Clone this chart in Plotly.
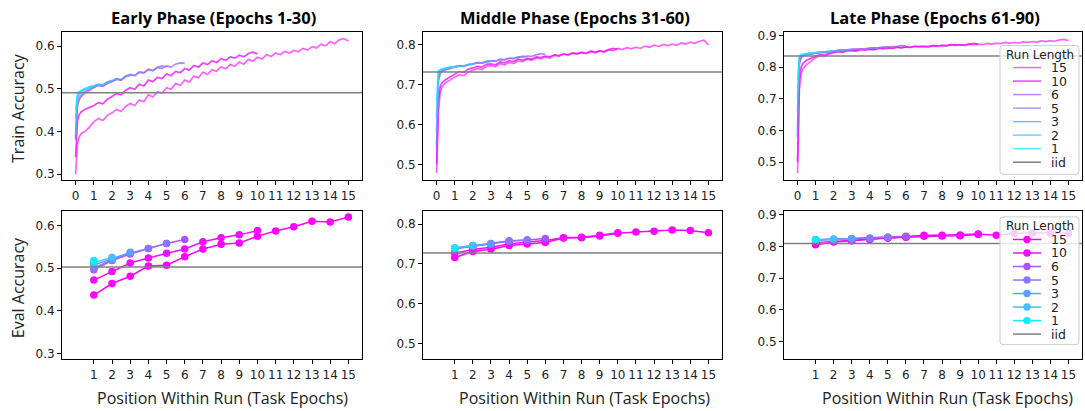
import plotly.graph_objects as go

W, H = 1085, 411

RUN_LENGTHS = [15, 10, 6, 5, 3, 2, 1]
PHASE_TITLES = ["Early Phase (Epochs 1-30)", "Middle Phase (Epochs 31-60)", "Late Phase (Epochs 61-90)"]
TOP_XTICKS = list(range(0, 16))
BOT_XTICKS = list(range(1, 16))
YTICKS = [[0.3, 0.4, 0.5, 0.6], [0.5, 0.6, 0.7, 0.8], [0.5, 0.6, 0.7, 0.8, 0.9]]
Y_RANGES = [[0.286, 0.634], [0.46, 0.833], [0.443, 0.912]]
EARLY_X = [0, 0.05, 0.1, 0.2, 0.3, 0.5, 0.75]   # sample positions before epoch 1

IID_TRAIN = [0.491, 0.732, 0.835]
IID_EVAL = [0.503, 0.7275, 0.8095]

# ---------------- Train accuracy (top row) ----------------
# Early phase
TR_EARLY_15 = [.300, .345, .372, .388, .395, .400, .410,
               .423, .431, .426, .438, .444, .452, .447, .459, .466, .461, .474, .470,
               .486, .481, .494, .490, .503, .499, .513, .508, .521, .516, .530, .526,
               .539, .534, .545, .541, .552, .547, .557, .553, .563, .558, .569, .565,
               .574, .570, .580, .576, .584, .580, .588, .584, .590, .587, .595, .591,
               .599, .596, .605, .601, .611, .606, .615, .618, .612]
TR_EARLY_10 = [.340, .400, .425, .440, .446, .452, .457,
               .461, .468, .465, .476, .482, .489, .486, .497, .503, .499, .511, .507,
               .521, .517, .527, .524, .535, .531, .541, .538, .548, .544, .555, .551,
               .561, .557, .566, .562, .571, .567, .575, .572, .579, .575, .583, .586, .582]
TR_EARLY_6 = [.380, .430, .460, .475, .482, .490, .497,
              .503, .509, .506, .513, .517, .522, .520, .529, .534, .531, .539, .537,
              .546, .543, .550, .548, .554, .551, .558, .561, .560]
TR_EARLY_5 = [.385, .440, .465, .478, .485, .493, .499,
              .504, .508, .507, .514, .518, .524, .521, .530, .533, .531, .540, .538,
              .545, .543, .551, .554, .552]
TR_EARLY_3 = [.390, .450, .475, .487, .492, .498, .502,
              .506, .510, .509, .516, .519, .524, .522, .529, .531]
TR_EARLY_2 = [.430, .470, .485, .492, .496, .500, .504,
              .508, .511, .510, .517, .520]
TR_EARLY_1 = [.450, .480, .490, .494, .497, .501, .505, .508]

# Middle phase
TR_MID_15 = [.478, .560, .630, .680, .695, .705, .713,
             .719, .725, .722, .732, .736, .741, .738, .746, .748, .745, .753, .750,
             .756, .753, .760, .758, .764, .761, .767, .765, .770, .767, .774, .771,
             .777, .774, .779, .777, .781, .778, .783, .780, .785, .782, .788, .785,
             .791, .788, .793, .790, .794, .791, .797, .794, .799, .796, .801, .798,
             .802, .799, .805, .802, .807, .804, .809, .812, .800]
TR_MID_10 = [.500, .600, .660, .695, .705, .713, .720,
             .728, .733, .731, .739, .742, .746, .744, .751, .752, .750, .757, .755,
             .760, .758, .764, .762, .766, .764, .770, .768, .772, .770, .775, .773,
             .777, .775, .780, .778, .781, .779, .784, .782, .785, .783, .788, .791, .789]
TR_MID_6 = [.540, .650, .710, .728, .733, .737, .741,
            .745, .748, .747, .751, .752, .756, .755, .759, .760, .759, .764, .763,
            .767, .766, .770, .769, .772, .771, .775, .778, .776]
TR_MID_5 = [.550, .660, .715, .730, .735, .739, .742,
            .744, .747, .746, .750, .752, .755, .754, .758, .760, .759, .763, .762,
            .766, .765, .769, .772, .770]
TR_MID_3 = [.580, .680, .725, .735, .738, .741, .743,
            .745, .747, .747, .750, .752, .754, .754, .757, .758]
TR_MID_2 = [.620, .700, .730, .737, .739, .742, .744,
            .745, .747, .747, .750, .752]
TR_MID_1 = [.660, .720, .735, .738, .740, .742, .744, .744]

# Late phase
TR_LATE_15 = [.465, .620, .730, .780, .795, .808, .818,
              .830, .836, .834, .842, .846, .849, .847, .852, .853, .851, .856, .854,
              .857, .855, .860, .858, .861, .859, .863, .861, .864, .862, .866, .864,
              .866, .864, .868, .866, .869, .867, .871, .869, .871, .869, .873, .871,
              .873, .871, .875, .873, .876, .874, .878, .876, .878, .876, .880, .878,
              .881, .879, .883, .881, .884, .882, .886, .888, .884]
TR_LATE_10 = [.500, .660, .760, .800, .812, .822, .829,
              .835, .840, .838, .844, .847, .850, .848, .852, .853, .852, .856, .855,
              .857, .856, .860, .859, .861, .860, .863, .862, .864, .863, .866, .865,
              .866, .865, .868, .867, .869, .868, .871, .870, .871, .870, .873, .875, .872]
TR_LATE_6 = [.580, .740, .810, .830, .835, .839, .842,
             .845, .847, .847, .850, .851, .853, .853, .855, .856, .856, .858, .858,
             .860, .860, .862, .862, .864, .864, .866, .868, .867]
TR_LATE_5 = [.600, .750, .815, .832, .836, .840, .843,
             .845, .847, .847, .850, .851, .853, .853, .855, .856, .856, .858, .858,
             .860, .860, .862, .864, .863]
TR_LATE_3 = [.660, .780, .825, .836, .839, .842, .844,
             .846, .848, .848, .850, .851, .853, .853, .855, .855]
TR_LATE_2 = [.700, .800, .830, .838, .840, .843, .845,
             .846, .848, .848, .850, .851]
TR_LATE_1 = [.760, .820, .835, .840, .841, .843, .844, .845]

# ---------------- Eval accuracy (bottom row) ----------------
EV_EARLY_15 = [.437, .464, .481, .505, .507, .527, .545, .556, .559, .575, .587, .597, .610, .608, .620]
EV_EARLY_10 = [.472, .492, .512, .524, .535, .545, .562, .571, .578, .588]
EV_EARLY_6 = [.496, .518, .533, .546, .558, .567]
EV_EARLY_5 = [.500, .520, .535, .546, .558]
EV_EARLY_3 = [.507, .522, .537]
EV_EARLY_2 = [.513, .525]
EV_EARLY_1 = [.518]

EV_MID_15 = [.716, .731, .737, .746, .750, .754, .765, .766, .770, .777, .780, .782, .785, .784, .778]
EV_MID_10 = [.727, .736, .742, .750, .755, .759, .766, .767, .772, .778]
EV_MID_6 = [.738, .744, .750, .757, .760, .764]
EV_MID_5 = [.739, .745, .751, .758, .760]
EV_MID_3 = [.740, .746, .750]
EV_MID_2 = [.740, .746]
EV_MID_1 = [.740]

EV_LATE_15 = [.805, .814, .818, .822, .827, .830, .835, .835, .836, .839, .835, .841, .843, .841, .841]
EV_LATE_10 = [.812, .816, .819, .823, .827, .829, .832, .833, .834, .838]
EV_LATE_6 = [.820, .822, .824, .826, .829, .832]
EV_LATE_5 = [.820, .822, .824, .826, .829]
EV_LATE_3 = [.821, .823, .824]
EV_LATE_2 = [.821, .823]
EV_LATE_1 = [.821]

TRAIN = [
    [TR_EARLY_15, TR_EARLY_10, TR_EARLY_6, TR_EARLY_5, TR_EARLY_3, TR_EARLY_2, TR_EARLY_1],
    [TR_MID_15, TR_MID_10, TR_MID_6, TR_MID_5, TR_MID_3, TR_MID_2, TR_MID_1],
    [TR_LATE_15, TR_LATE_10, TR_LATE_6, TR_LATE_5, TR_LATE_3, TR_LATE_2, TR_LATE_1],
]
EVAL = [
    [EV_EARLY_15, EV_EARLY_10, EV_EARLY_6, EV_EARLY_5, EV_EARLY_3, EV_EARLY_2, EV_EARLY_1],
    [EV_MID_15, EV_MID_10, EV_MID_6, EV_MID_5, EV_MID_3, EV_MID_2, EV_MID_1],
    [EV_LATE_15, EV_LATE_10, EV_LATE_6, EV_LATE_5, EV_LATE_3, EV_LATE_2, EV_LATE_1],
]

# ---------------- styling ----------------
RGB = {15: (255, 0, 255), 10: (242, 13, 255), 6: (170, 85, 255), 5: (140, 118, 255),
       3: (90, 160, 255), 2: (66, 192, 255), 1: (20, 234, 255)}
TOP_ALPHA = {15: 0.62, 10: 0.8, 6: 0.75, 5: 0.75, 3: 0.75, 2: 0.75, 1: 0.75}


def rgba(r, a):
    c = RGB[r]
    return f"rgba({c[0]},{c[1]},{c[2]},{a})"


IID_COLOR = "#808080"
TICK_FONT = dict(family="DejaVu Sans", size=12, color="#222222")
LABEL_FONT = dict(family="Open Sans", size=16, color="#222222")

COL_PX = [(62, 362), (423, 722), (784, 1082)]
TOP_PX = (29, 179)
BOT_PX = (210, 360)


def px_x(x):
    return x / W


def px_y(y):
    return 1 - y / H


fig = go.Figure()
layout = dict(width=W, height=H, margin=dict(l=0, r=0, t=0, b=0),
              paper_bgcolor="white", plot_bgcolor="white", showlegend=False)

shapes = []
annotations = []

for col in range(3):
    for row in range(2):
        idx = col + 1 + 3 * row
        xname = "xaxis" if idx == 1 else f"xaxis{idx}"
        yname = "yaxis" if idx == 1 else f"yaxis{idx}"
        xref = "x" if idx == 1 else f"x{idx}"
        yref = "y" if idx == 1 else f"y{idx}"
        ypx = TOP_PX if row == 0 else BOT_PX
        layout[xname] = dict(
            domain=[px_x(COL_PX[col][0]), px_x(COL_PX[col][1])], anchor=yref,
            range=[-0.75, 15.75], tickmode="array",
            tickvals=TOP_XTICKS if row == 0 else BOT_XTICKS,
            showline=True, mirror=True, linecolor="black", linewidth=1,
            ticks="outside", ticklen=4, tickwidth=1, tickcolor="black",
            showgrid=False, zeroline=False, tickfont=TICK_FONT)
        layout[yname] = dict(
            domain=[px_y(ypx[1]), px_y(ypx[0])], anchor=xref,
            range=Y_RANGES[col], tickmode="array", tickvals=YTICKS[col],
            tickformat=".1f",
            showline=True, mirror=True, linecolor="black", linewidth=1,
            ticks="outside", ticklen=4, tickwidth=1, tickcolor="black",
            showgrid=False, zeroline=False, tickfont=TICK_FONT)

        if row == 0:
            for r, ys in zip(RUN_LENGTHS, TRAIN[col]):
                xs = EARLY_X + [1 + 0.25 * i for i in range(len(ys) - len(EARLY_X))]
                fig.add_trace(go.Scatter(x=xs, y=ys, mode="lines", xaxis=xref, yaxis=yref,
                                         line=dict(color=rgba(r, TOP_ALPHA[r]), width=1.7),
                                         name=str(r)))
            iid = IID_TRAIN[col]
        else:
            for r, ys in zip(RUN_LENGTHS, EVAL[col]):
                xs = list(range(1, len(ys) + 1))
                fig.add_trace(go.Scatter(x=xs, y=ys, mode="lines+markers", xaxis=xref, yaxis=yref,
                                         line=dict(color=rgba(r, 1), width=1.5),
                                         marker=dict(color=rgba(r, 1), size=7.5),
                                         name=str(r)))
            iid = IID_EVAL[col]
        shapes.append(dict(type="line", xref=f"{xref} domain", yref=yref, x0=0, x1=1,
                           y0=iid, y1=iid, line=dict(color=IID_COLOR, width=1.5), layer="above"))

# Titles
TITLE_CX = [213, 575, 935]
for col in range(3):
    annotations.append(dict(text=f"<b>{PHASE_TITLES[col]}</b>", x=px_x(TITLE_CX[col]), y=px_y(15),
                            xref="paper", yref="paper", showarrow=False, xanchor="center",
                            yanchor="middle", font=dict(family="Open Sans", size=16.5, color="black")))
    annotations.append(dict(text="Position Within Run (Task Epochs)", x=px_x([222, 584, 947][col]),
                            y=px_y(399), xref="paper", yref="paper", showarrow=False,
                            xanchor="center", yanchor="middle", font=LABEL_FONT))

annotations.append(dict(text="Train Accuracy", x=px_x(18), y=px_y(106), xref="paper", yref="paper",
                        showarrow=False, textangle=-90, xanchor="center", yanchor="middle",
                        font=LABEL_FONT))
annotations.append(dict(text="Eval Accuracy", x=px_x(18), y=px_y(288), xref="paper", yref="paper",
                        showarrow=False, textangle=-90, xanchor="center", yanchor="middle",
                        font=LABEL_FONT))


# Legends (drawn manually to match compact matplotlib legend)
def rounded_box(x0, y0, x1, y1, rad=3):
    X0, X1 = px_x(x0), px_x(x1)
    Y0, Y1 = px_y(y0), px_y(y1)
    rx, ry = rad / W, rad / H
    return (f"M{X0+rx},{Y0} L{X1-rx},{Y0} Q{X1},{Y0} {X1},{Y0-ry} "
            f"L{X1},{Y1+ry} Q{X1},{Y1} {X1-rx},{Y1} L{X0+rx},{Y1} Q{X0},{Y1} {X0},{Y1+ry} "
            f"L{X0},{Y0-ry} Q{X0},{Y0} {X0+rx},{Y0} Z")


LEG_FONT = dict(family="DejaVu Sans", size=12.5, color="#222222")
legend_specs = [
    dict(box=(1000, 43, 1079, 173), title_y=53, first=65.2, markers=False),
    dict(box=(1000, 216, 1079, 345), title_y=225.5, first=238.8, markers=True),
]
STEP = 13.65
LEGEND_LABELS = [str(r) for r in RUN_LENGTHS] + ["iid"]
for spec in legend_specs:
    bx = spec["box"]
    shapes.append(dict(type="path", path=rounded_box(*bx), xref="paper", yref="paper",
                       fillcolor="rgba(255,255,255,0.8)", line=dict(color="#cccccc", width=1),
                       layer="above"))
    annotations.append(dict(text="Run Length", x=px_x(1040), y=px_y(spec["title_y"]), xref="paper",
                            yref="paper", showarrow=False, xanchor="center", yanchor="middle",
                            font=dict(family="DejaVu Sans", size=12, color="#222222")))
    for i, lab in enumerate(LEGEND_LABELS):
        yy = spec["first"] + i * STEP
        if lab == "iid":
            col_line = IID_COLOR
        else:
            r = int(lab)
            col_line = rgba(r, 1) if spec["markers"] else rgba(r, TOP_ALPHA[r])
        shapes.append(dict(type="line", xref="paper", yref="paper", x0=px_x(1013), x1=px_x(1041),
                           y0=px_y(yy), y1=px_y(yy), line=dict(color=col_line, width=1.5),
                           layer="above"))
        if spec["markers"] and lab != "iid":
            shapes.append(dict(type="circle", xref="paper", yref="paper", xsizemode="pixel",
                               ysizemode="pixel", xanchor=px_x(1027), yanchor=px_y(yy),
                               x0=-3.7, x1=3.7, y0=-3.7, y1=3.7, fillcolor=col_line,
                               line=dict(color=col_line, width=0), layer="above"))
        annotations.append(dict(text=lab, x=px_x(1049), y=px_y(yy), xref="paper", yref="paper",
                                showarrow=False, xanchor="left", yanchor="middle", font=LEG_FONT))

layout["shapes"] = shapes
layout["annotations"] = annotations
fig.update_layout(**layout)
fig.write_html("out.html", config={"displayModeBar": False},
               post_script="document.body.style.margin='0';document.body.style.padding='0';"
                           "document.body.style.overflow='hidden';")
